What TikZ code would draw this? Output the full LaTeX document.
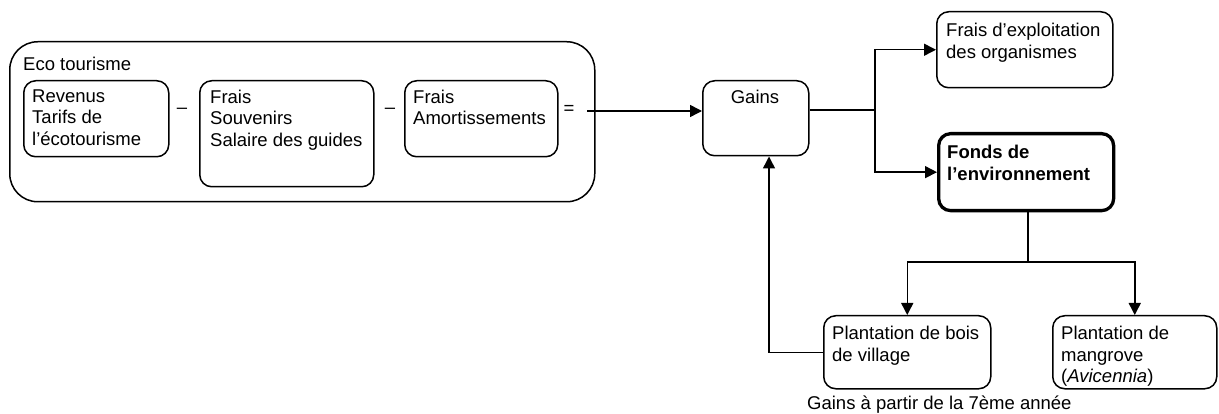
\documentclass[tikz,border=0pt]{standalone}
\usepackage{fontspec}
\setmainfont{Liberation Sans}
\usetikzlibrary{arrows.meta}
\tikzset{
  box/.style={draw, line width=1.5pt, rounded corners=12pt, inner sep=0pt, anchor=north west},
  bigbox/.style={box, rounded corners=28pt},
  thickbox/.style={box, line width=3.3pt},
  txt/.style={inner sep=0pt, anchor=north west, align=left,
              font=\fontsize{18.5}{21.5}\selectfont},
  sign/.style={inner sep=0pt, font=\fontsize{18.5}{21.5}\selectfont},
  link/.style={line width=1.5pt},
  arr/.style={link, -{Triangle[length=12pt,width=12pt]}}
}
\begin{document}
\begin{tikzpicture}[x=1pt,y=-1pt]
\useasboundingbox (0,0) rectangle (1219,414);

% eco-tourism block with its three accounts
\node[bigbox, minimum width=585pt, minimum height=160pt] (eco) at (9,41) {};
\node[txt] (ecot) at (23,57) {Eco tourisme};

\node[box, minimum width=145pt, minimum height=76pt] (rev) at (23,80) {};
\node[txt] (revt) at (32,89.5) {Revenus\\Tarifs de\\l’écotourisme};

\node[box, minimum width=174pt, minimum height=106pt] (fr1) at (199,80) {};
\node[txt] (fr1t) at (210,89.5) {Frais\\Souvenirs\\Salaire des guides};

\node[box, minimum width=153pt, minimum height=76pt] (fr2) at (404,80) {};
\node[txt] (fr2t) at (413,89.5) {Frais\\Amortissements};

\node[sign] (m1) at (182,111) {–};
\node[sign] (m2) at (390,111) {–};
\node[sign] (eq) at (569,110) {=};

% gains and their use
\node[box, minimum width=106pt, minimum height=75pt] (gains) at (702,80) {};
\node[txt, anchor=north] (gainst) at (755,89.5) {Gains};

\node[box, minimum width=176pt, minimum height=76pt] (expl) at (936,11) {};
\node[txt] (explt) at (946,23) {Frais d’exploitation\\des organismes};

\node[thickbox, minimum width=175pt, minimum height=77pt] (fonds) at (937,132) {};
\node[txt, font=\fontsize{18.5}{21.5}\selectfont\bfseries] (fondst) at (947,145) {Fonds de\\l’environnement};

\node[box, minimum width=167pt, minimum height=73pt] (bois) at (823,315) {};
\node[txt] (boist) at (832,326) {Plantation de bois\\de village};

\node[box, minimum width=164pt, minimum height=73pt] (mang) at (1052,315) {};
\node[txt] (mangt) at (1061,326) {Plantation de\\mangrove\\(\textit{Avicennia})};

\node[txt] (note) at (807,395.5) {Gains à partir de la 7ème année};

% connectors
\coordinate (eqend) at (587,111);
\draw[arr] (eqend) -- (gains.west |- eqend);

\coordinate (split) at (875,110);
\draw[link] (gains.east |- split) -- (split);
\draw[arr] (split) |- (expl.west);
\draw[arr] (split) |- (fonds.west);

\coordinate (split2) at (1028,262);
\draw[link] (fonds.south -| split2) -- (split2);
\draw[arr] (split2) -| (bois.north);
\draw[arr] (split2) -| (mang.north);

\coordinate (back) at (769,0);
\draw[arr] (bois.west) -| (back |- gains.south);
\end{tikzpicture}
\end{document}
